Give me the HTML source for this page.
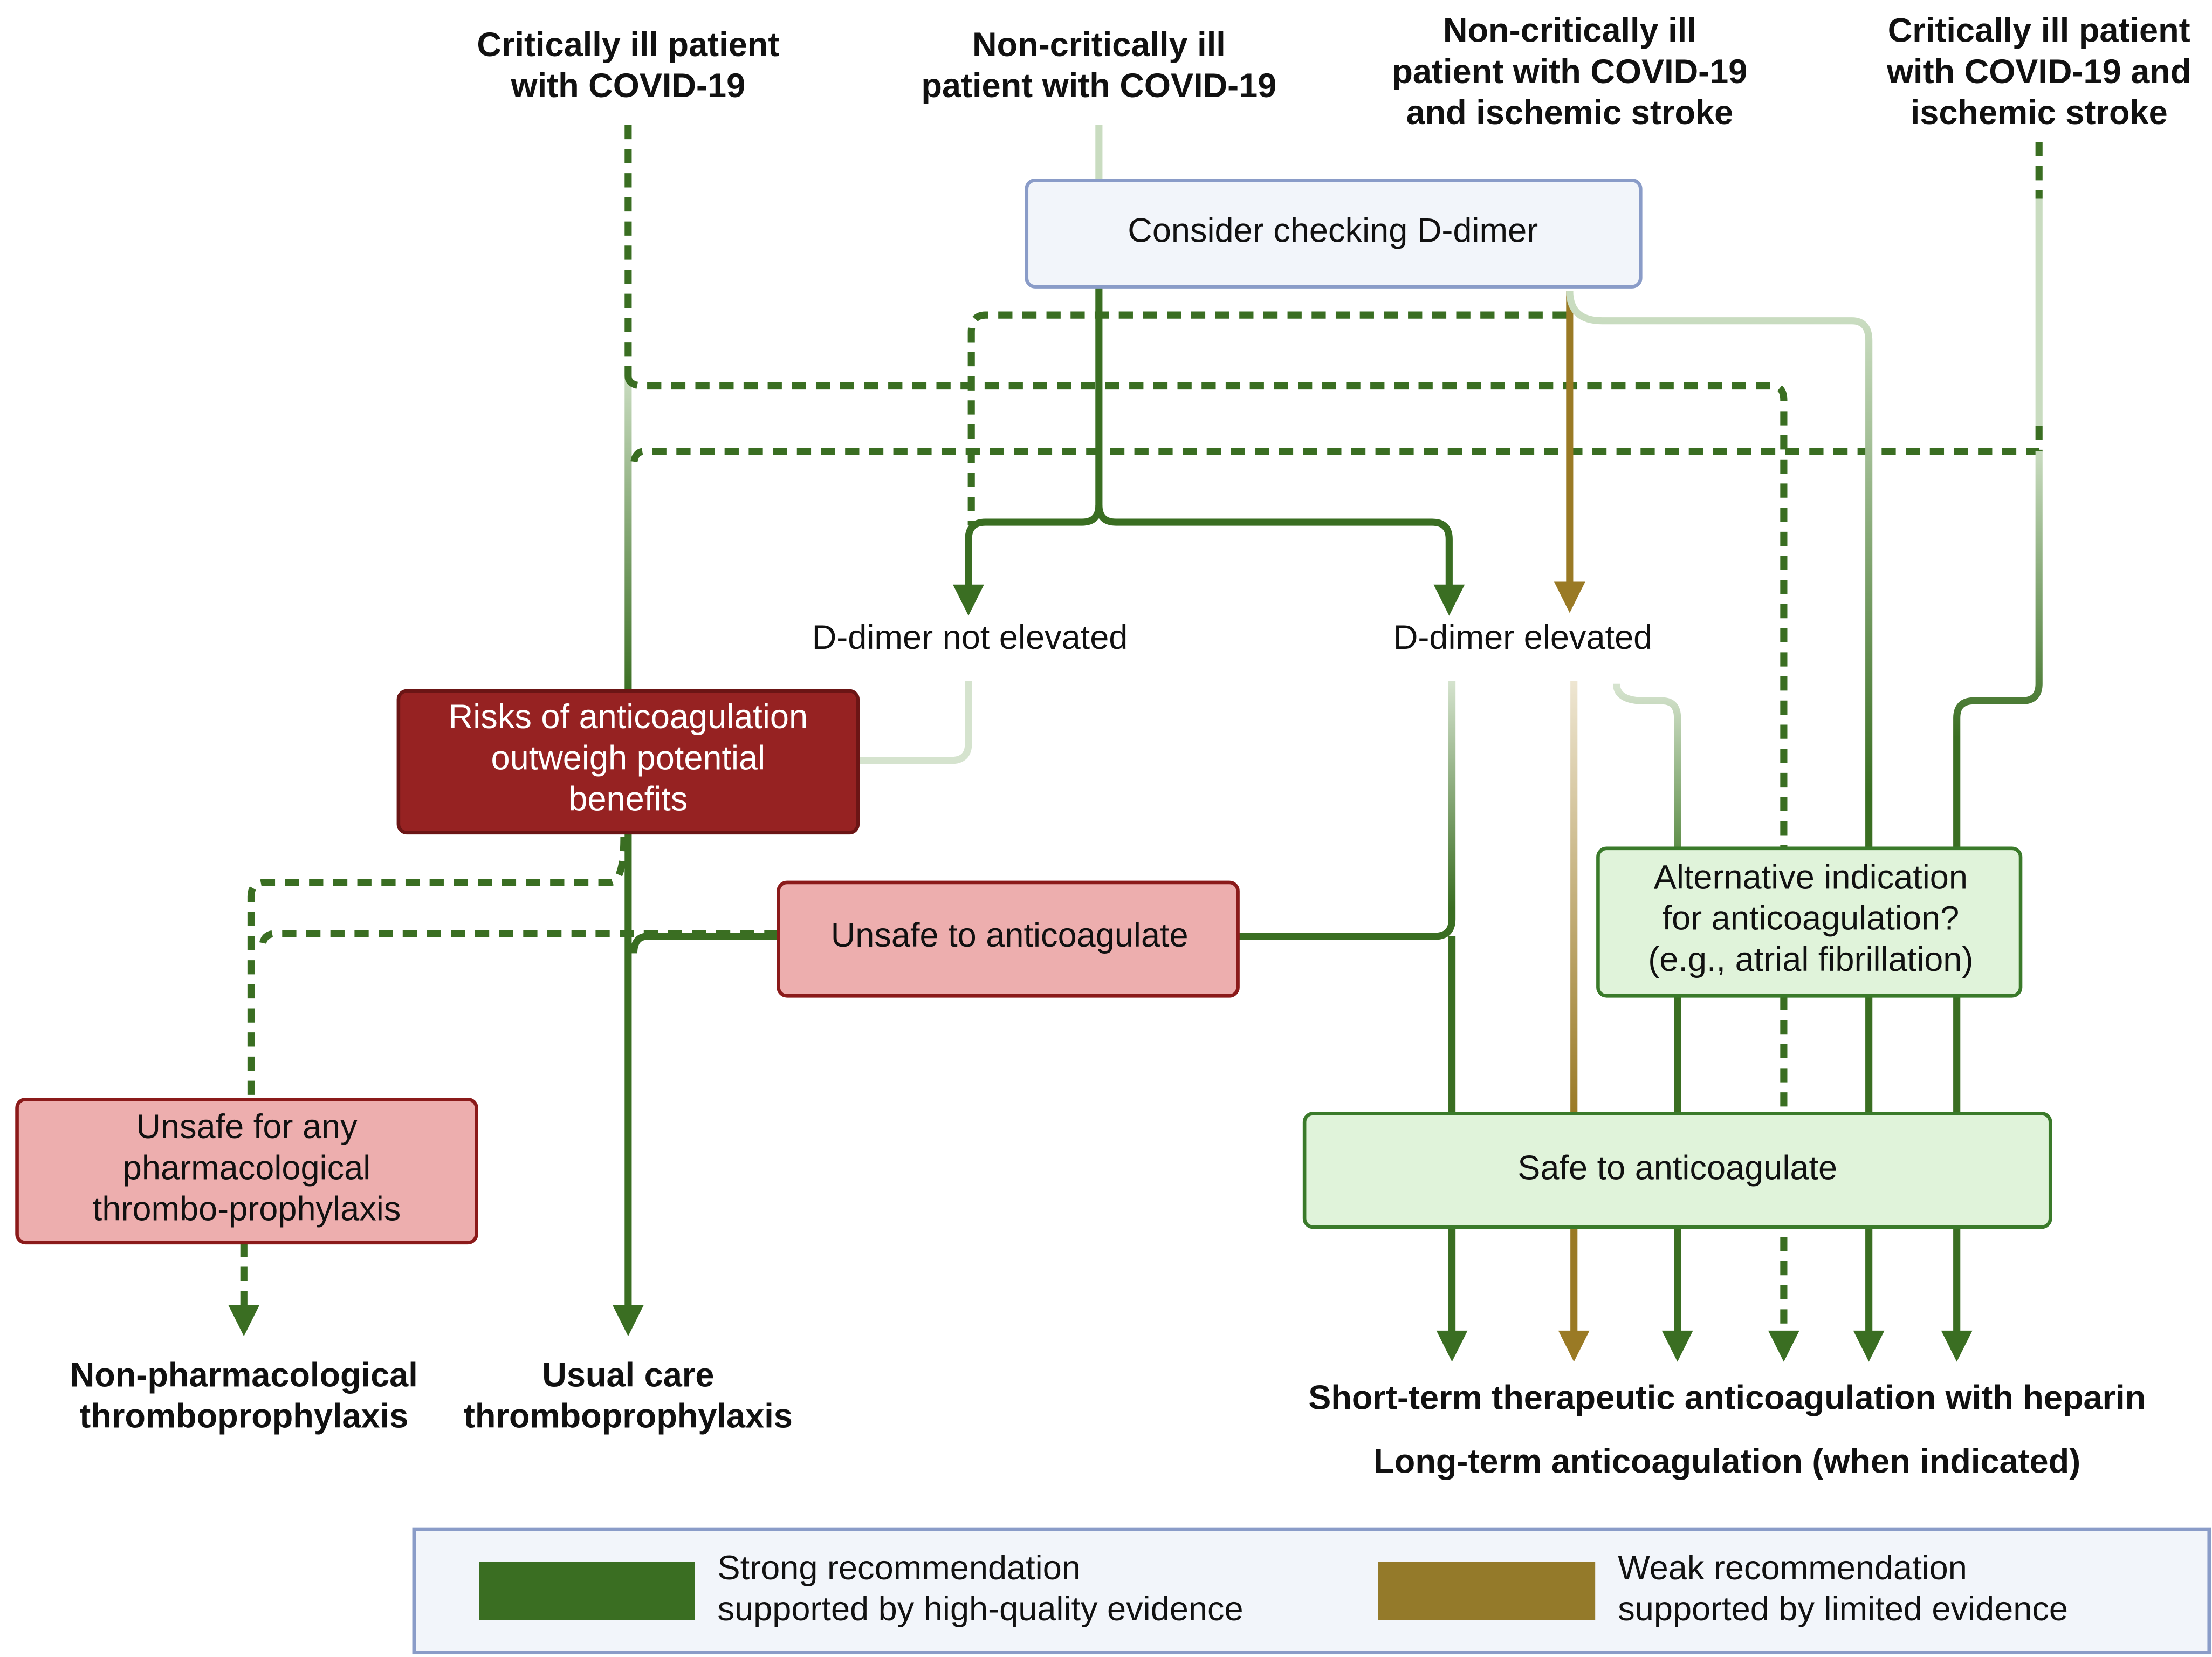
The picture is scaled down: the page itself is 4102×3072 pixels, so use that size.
<!DOCTYPE html>
<html><head><meta charset="utf-8"><style>
html,body{margin:0;padding:0;background:#fff;}
svg{display:block;}
text{font-family:"Liberation Sans",sans-serif;font-size:24px;fill:#111;text-anchor:middle;dominant-baseline:middle;}
.b{font-weight:bold;}
.w{fill:#fff;}
.l{text-anchor:start;}
</style></head><body>
<svg width="4102" height="3072" viewBox="0 0 1560 1168" xmlns="http://www.w3.org/2000/svg">
<defs>
<linearGradient id="g443" gradientUnits="userSpaceOnUse" x1="0" y1="265" x2="0" y2="490"><stop offset="0" stop-color="#c9dcc0"/><stop offset="1" stop-color="#3a6e22"/></linearGradient>
<linearGradient id="g1438" gradientUnits="userSpaceOnUse" x1="0" y1="318" x2="0" y2="520"><stop offset="0" stop-color="#c9dcc0"/><stop offset="1" stop-color="#3a6e22"/></linearGradient>
<linearGradient id="g1318" gradientUnits="userSpaceOnUse" x1="0" y1="226" x2="0" y2="560"><stop offset="0" stop-color="#c9dcc0"/><stop offset="1" stop-color="#3a6e22"/></linearGradient>
<linearGradient id="g1024" gradientUnits="userSpaceOnUse" x1="0" y1="480" x2="0" y2="640"><stop offset="0" stop-color="#d5e3ce"/><stop offset="1" stop-color="#3a6e22"/></linearGradient>
<linearGradient id="g1183" gradientUnits="userSpaceOnUse" x1="0" y1="485" x2="0" y2="598"><stop offset="0" stop-color="#d5e3ce"/><stop offset="1" stop-color="#5f8f4a"/></linearGradient>
<linearGradient id="gold" gradientUnits="userSpaceOnUse" x1="0" y1="480" x2="0" y2="785"><stop offset="0" stop-color="#eee6d2"/><stop offset="1" stop-color="#9a7a25"/></linearGradient>
</defs>
<g fill="none" stroke-width="5" stroke-linejoin="round">
<path d="M443 88 V265" stroke="#3a6e22" stroke-dasharray="10,7"/>
<path d="M443 265 V490" stroke="url(#g443)"/>
<path d="M443 587 V925" stroke="#3a6e22"/>
<path d="M443 265 Q443 272 455 272 H1250 Q1258 272 1258 282 V598" stroke="#3a6e22" stroke-dasharray="10,7"/>
<path d="M1258 702 V945" stroke="#3a6e22" stroke-dasharray="10,7"/>
<path d="M1438 100 V140" stroke="#3a6e22" stroke-dasharray="10,7"/>
<path d="M1438 140 V300" stroke="#c9dcc0"/>
<path d="M1438 300 V318 H455 Q447 318 447 328" stroke="#3a6e22" stroke-dasharray="10,7"/>
<path d="M1438 318 V482 Q1438 494 1426 494 H1392 Q1380 494 1380 506 V598" stroke="url(#g1438)"/>
<path d="M1380 702 V945" stroke="#3a6e22"/>
<path d="M775 88 V127" stroke="#c9dcc0"/>
<path d="M775 202 V356 Q775 368 763 368 H695 Q683 368 683 380 V420" stroke="#3a6e22"/>
<path d="M775 356 Q775 368 787 368 H1010 Q1022 368 1022 380 V420" stroke="#3a6e22"/>
<path d="M1105 222 H695 Q685 222 685 234 V370" stroke="#3a6e22" stroke-dasharray="10,7"/>
<path d="M1107 205 V420" stroke="#9a7a25"/>
<path d="M1107 205 Q1107 226 1130 226 H1306 Q1318 226 1318 240 V598" stroke="url(#g1318)"/>
<path d="M1318 702 V945" stroke="#3a6e22"/>
<path d="M683 480 V524 Q683 536 671 536 H605" stroke="#d5e3ce"/>
<path d="M1024 480 V648 Q1024 660 1012 660 H873" stroke="url(#g1024)"/>
<path d="M1024 660 V945" stroke="#3a6e22"/>
<path d="M1110 480 V785" stroke="url(#gold)"/>
<path d="M1110 865 V945" stroke="#9a7a25"/>
<path d="M1140 482 Q1140 494 1160 494 H1172 Q1183 494 1183 506 V598" stroke="url(#g1183)"/>
<path d="M1183 702 V945" stroke="#3a6e22"/>
<path d="M549 660 H457 Q447 660 447 672" stroke="#3a6e22"/>
<path d="M549 658 H195 Q185 658 185 668" stroke="#3a6e22" stroke-dasharray="10,7"/>
<path d="M440 590 Q440 622 430 622 H187 Q177 622 177 632 V775" stroke="#3a6e22" stroke-dasharray="10,7"/>
<path d="M172 876 V925" stroke="#3a6e22" stroke-dasharray="10,7"/>
</g>
<g fill="#3a6e22">
<path d="M672 412 H694 L683 434 Z"/>
<path d="M1011 412 H1033 L1022 434 Z"/>
<path d="M432 920 H454 L443 942 Z"/>
<path d="M161 920 H183 L172 942 Z"/>
<path d="M1013 938 H1035 L1024 960 Z"/>
<path d="M1172 938 H1194 L1183 960 Z"/>
<path d="M1247 938 H1269 L1258 960 Z"/>
<path d="M1307 938 H1329 L1318 960 Z"/>
<path d="M1369 938 H1391 L1380 960 Z"/>
</g>
<g fill="#9a7a25">
<path d="M1096 410 H1118 L1107 432 Z"/>
<path d="M1099 938 H1121 L1110 960 Z"/>
</g>
<rect x="724" y="127" width="433" height="75" rx="6" fill="#f2f5fa" stroke="#8a9cc8" stroke-width="2.5"/>
<rect x="281" y="487" width="324" height="100" rx="6" fill="#962222" stroke="#6b1515" stroke-width="2.5"/>
<rect x="549" y="622" width="324" height="80" rx="6" fill="#edaeae" stroke="#8b1a1a" stroke-width="2.5"/>
<rect x="12" y="775" width="324" height="101" rx="6" fill="#edaeae" stroke="#8b1a1a" stroke-width="2.5"/>
<rect x="1127" y="598" width="298" height="104" rx="6" fill="#e0f3da" stroke="#3a7a2a" stroke-width="2.5"/>
<rect x="920" y="785" width="526" height="80" rx="6" fill="#e0f3da" stroke="#3a7a2a" stroke-width="2.5"/>
<rect x="292" y="1078" width="1266" height="87" fill="#f2f5fa" stroke="#8a9cc8" stroke-width="2.5"/>
<rect x="338" y="1101" width="152" height="41" fill="#3a6e22"/>
<rect x="972" y="1101" width="153" height="41" fill="#947a2a"/>
<text class="b" x="443" y="33">Critically ill patient</text>
<text class="b" x="443" y="62">with COVID-19</text>
<text class="b" x="775" y="33">Non-critically ill</text>
<text class="b" x="775" y="62">patient with COVID-19</text>
<text class="b" x="1107" y="23">Non-critically ill</text>
<text class="b" x="1107" y="52">patient with COVID-19</text>
<text class="b" x="1107" y="81">and ischemic stroke</text>
<text class="b" x="1438" y="23">Critically ill patient</text>
<text class="b" x="1438" y="52">with COVID-19 and</text>
<text class="b" x="1438" y="81">ischemic stroke</text>
<text x="940" y="164">Consider checking D-dimer</text>
<text x="684" y="451">D-dimer not elevated</text>
<text x="1074" y="451">D-dimer elevated</text>
<text class="w" x="443" y="507">Risks of anticoagulation</text>
<text class="w" x="443" y="536">outweigh potential</text>
<text class="w" x="443" y="565">benefits</text>
<text x="712" y="661">Unsafe to anticoagulate</text>
<text x="1277" y="620">Alternative indication</text>
<text x="1277" y="649">for anticoagulation?</text>
<text x="1277" y="678">(e.g., atrial fibrillation)</text>
<text x="174" y="796">Unsafe for any</text>
<text x="174" y="825">pharmacological</text>
<text x="174" y="854">thrombo-prophylaxis</text>
<text x="1183" y="825">Safe to anticoagulate</text>
<text class="b" x="172" y="971">Non-pharmacological</text>
<text class="b" x="172" y="1000">thromboprophylaxis</text>
<text class="b" x="443" y="971">Usual care</text>
<text class="b" x="443" y="1000">thromboprophylaxis</text>
<text class="b" x="1218" y="987">Short-term therapeutic anticoagulation with heparin</text>
<text class="b" x="1218" y="1032">Long-term anticoagulation (when indicated)</text>
<text class="l" x="506" y="1107">Strong recommendation</text>
<text class="l" x="506" y="1136">supported by high-quality evidence</text>
<text class="l" x="1141" y="1107">Weak recommendation</text>
<text class="l" x="1141" y="1136">supported by limited evidence</text>
</svg>
</body></html>
